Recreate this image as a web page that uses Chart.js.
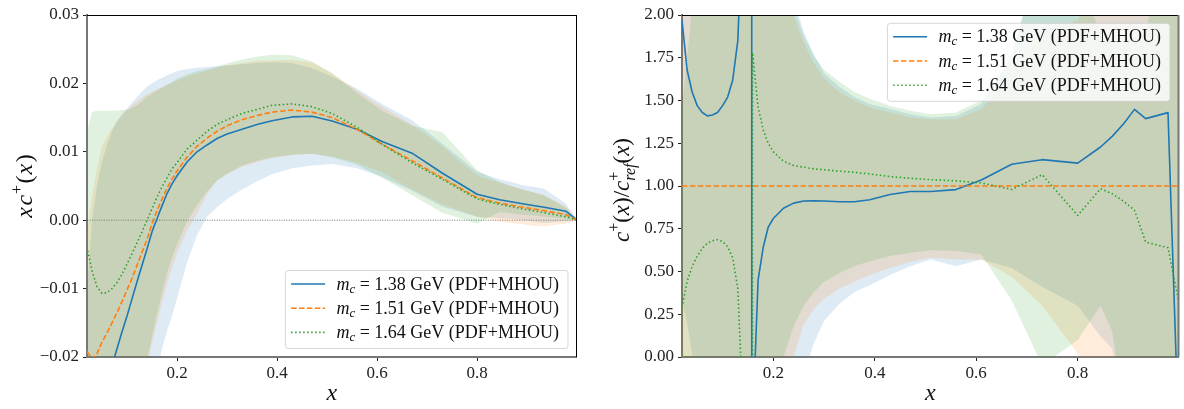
<!DOCTYPE html>
<html>
<head>
<meta charset="utf-8">
<script src="https://cdn.jsdelivr.net/npm/chart.js@4.4.1/dist/chart.umd.min.js"></script>
<style>
  html, body { margin: 0; padding: 0; background: #fff; }
  #wrap { position: relative; width: 1184px; height: 409px; }
  canvas { position: absolute; top: 0; }
  #left { left: 0; }
  #right { left: 592px; }
</style>
</head>
<body>
<div id="wrap">
  <canvas id="left" width="592" height="409"></canvas>
  <canvas id="right" width="592" height="409"></canvas>
</div>
<script>
// x grid shared by every curve
const X = [
  0.02, 0.03, 0.04, 0.05, 0.06, 0.07, 0.08, 0.09, 0.10, 0.11, 0.12,
  0.13, 0.14, 0.15, 0.156, 0.159, 0.163, 0.17, 0.18, 0.19, 0.20,
  0.22, 0.24, 0.26, 0.28, 0.30, 0.33, 0.36, 0.39, 0.43, 0.47,
  0.51, 0.56, 0.61, 0.67, 0.73, 0.80, 0.845, 0.868, 0.891, 0.912, 0.934, 0.978, 1.0
];
const MASSES = ['1.38', '1.51', '1.64'];

const X_MIN = 0.02, X_MAX = 0.9987;
const X_TICKS = [0.2, 0.4, 0.6, 0.8];
const Y_TICKS_LEFT = [-0.02, -0.01, 0.0, 0.01, 0.02, 0.03];
const Y_TICKS_RIGHT = [0, 0.25, 0.5, 0.75, 1.0, 1.25, 1.5, 1.75, 2.0];

// left panel: x c+(x), central values
const XC_138 = [
  -0.0370, -0.0340, -0.0300, -0.0265, -0.0238, -0.0212, -0.0188, -0.0163, -0.0140, -0.0115, -0.0090,
  -0.0066, -0.0042, -0.0017, -0.0005, 0.0000, 0.0008, 0.0021, 0.0039, 0.0053, 0.0065,
  0.0085, 0.0100, 0.0110, 0.01195, 0.0126, 0.0133, 0.0140, 0.01455, 0.0151, 0.0152,
  0.0145, 0.0133, 0.0115, 0.0098, 0.0069, 0.0038, 0.0030, 0.0027, 0.0024, 0.00215, 0.0019, 0.0013, 0.0000
];
const XC_151 = [
  -0.0192, -0.0203, -0.0195, -0.0178, -0.0165, -0.0150, -0.0135, -0.0119, -0.0102, -0.0085, -0.0066,
  -0.0047, -0.0028, -0.0005, 0.0006, 0.0012, 0.0019, 0.0031, 0.0047, 0.0060, 0.0072,
  0.0092, 0.0108, 0.0120, 0.0130, 0.0138, 0.0147, 0.0153, 0.0158, 0.0161, 0.0158,
  0.0150, 0.0133, 0.0111, 0.0087, 0.0062, 0.0033, 0.0025, 0.0022, 0.0019, 0.00165, 0.0014, 0.0008, 0.0000
];
const XC_164 = [
  -0.0039, -0.0074, -0.0097, -0.0107, -0.0106, -0.0100, -0.0091, -0.0079, -0.0064, -0.0049, -0.0033,
  -0.0017, 0.0000, 0.0017, 0.0027, 0.0032, 0.0038, 0.0049, 0.0062, 0.0075, 0.0084,
  0.0104, 0.0117, 0.0130, 0.0140, 0.0147, 0.0156, 0.0162, 0.0168, 0.0170, 0.0166,
  0.0156, 0.0136, 0.0111, 0.0084, 0.0060, 0.0031, 0.0023, 0.0020, 0.00165, 0.0014, 0.0011, 0.0005, 0.0000
];
// left panel: PDF+MHOU bands
const XC_HI_138 = [
  -0.0100, 0.0000, 0.0050, 0.0085, 0.0110, 0.0130, 0.0145, 0.0155, 0.0163, 0.0172, 0.0180,
  0.0188, 0.0195, 0.0200, 0.0203, 0.0204, 0.0206, 0.0208, 0.0212, 0.0215, 0.0218,
  0.0221, 0.0223, 0.0224, 0.0225, 0.0226, 0.0228, 0.0230, 0.0231, 0.0230, 0.0222,
  0.0210, 0.0192, 0.0170, 0.0146, 0.0112, 0.0071, 0.0060, 0.0056, 0.0051, 0.0049, 0.0046, 0.0024, 0.0000
];
const XC_LO_138 = [
  -0.0600, -0.0600, -0.0600, -0.0600, -0.0580, -0.0550, -0.0520, -0.0490, -0.0460, -0.0420, -0.0380,
  -0.0340, -0.0300, -0.0260, -0.0235, -0.0225, -0.0212, -0.0188, -0.0162, -0.0140, -0.0115,
  -0.0062, -0.0022, 0.0005, 0.0019, 0.0031, 0.0045, 0.0057, 0.0067, 0.0076, 0.0080,
  0.0082, 0.0076, 0.0063, 0.0043, 0.0020, 0.0005, 0.0003, 0.0002, 0.0000, -0.0002, -0.0004, -0.0001, 0.0000
];
const XC_HI_151 = [
  -0.0020, 0.0035, 0.0075, 0.0108, 0.0122, 0.0134, 0.0144, 0.0153, 0.0161, 0.0168, 0.0174,
  0.0179, 0.0184, 0.0188, 0.0190, 0.0191, 0.0192, 0.0194, 0.0198, 0.0201, 0.0204,
  0.0210, 0.0215, 0.0219, 0.0223, 0.0226, 0.0230, 0.0233, 0.0234, 0.0234, 0.0231,
  0.0215, 0.0190, 0.0166, 0.0140, 0.0108, 0.0065, 0.0055, 0.0050, 0.0045, 0.0041, 0.0037, 0.0020, 0.0000
];
const XC_LO_151 = [
  -0.0600, -0.0600, -0.0580, -0.0550, -0.0520, -0.0490, -0.0460, -0.0430, -0.0390, -0.0350, -0.0300,
  -0.0260, -0.0210, -0.0180, -0.0162, -0.0152, -0.0141, -0.0120, -0.0093, -0.0070, -0.0048,
  -0.0015, 0.0010, 0.0038, 0.0058, 0.0067, 0.0078, 0.0085, 0.0091, 0.0095, 0.0097,
  0.0093, 0.0084, 0.0070, 0.0045, 0.0023, 0.0005, -0.0002, -0.0004, -0.0006, -0.0008, -0.0009, -0.0005, 0.0000
];
const XC_HI_164 = [
  0.0130, 0.0158, 0.0160, 0.0160, 0.0160, 0.0160, 0.0160, 0.0161, 0.0162, 0.0164, 0.0168,
  0.0174, 0.0180, 0.0185, 0.0188, 0.0189, 0.0191, 0.0194, 0.0198, 0.0202, 0.0207,
  0.0213, 0.0218, 0.0221, 0.0225, 0.0229, 0.0235, 0.0239, 0.0242, 0.0241, 0.0232,
  0.0215, 0.0186, 0.0160, 0.0138, 0.0129, 0.0073, 0.0056, 0.0050, 0.0045, 0.0041, 0.0036, 0.0018, 0.0000
];
const XC_LO_164 = [
  -0.0550, -0.0550, -0.0540, -0.0520, -0.0500, -0.0470, -0.0440, -0.0410, -0.0370, -0.0330, -0.0290,
  -0.0250, -0.0205, -0.0170, -0.0150, -0.0140, -0.0128, -0.0106, -0.0078, -0.0055, -0.0035,
  -0.0002, 0.0022, 0.0042, 0.0058, 0.0068, 0.0080, 0.0087, 0.0092, 0.0096, 0.0097,
  0.0092, 0.0081, 0.0062, 0.0037, 0.0011, -0.0005, 0.0012, 0.0010, 0.0008, 0.0007, 0.0005, 0.0002, 0.0000
];

// right panel: ratio to the m_c = 1.51 GeV central value
const R_138 = [
  1.97, 1.68, 1.55, 1.47, 1.43, 1.41, 1.415, 1.43, 1.47, 1.52, 1.62,
  1.85, 2.6, 5.0, 60, -60, -0.1, 0.45, 0.64, 0.76, 0.81,
  0.87, 0.90, 0.912, 0.913, 0.912, 0.908, 0.908, 0.92, 0.95, 0.968,
  0.968, 0.979, 1.035, 1.127, 1.154, 1.134, 1.228, 1.29, 1.365, 1.448, 1.394, 1.429, -0.55
];
const R_151 = [
  1, 1, 1, 1, 1, 1, 1, 1, 1, 1, 1,
  1, 1, 1, 1, 1, 1, 1, 1, 1, 1,
  1, 1, 1, 1, 1, 1, 1, 1, 1, 1,
  1, 1, 1, 1, 1, 1, 1, 1, 1, 1, 1, 1, 1
];
const R_164 = [
  0.29, 0.44, 0.53, 0.59, 0.635, 0.665, 0.68, 0.686, 0.675, 0.645, 0.58,
  0.40, -0.3, -3.0, -60, 1.78, 1.66, 1.46, 1.33, 1.25, 1.20,
  1.145, 1.12, 1.11, 1.10, 1.095, 1.087, 1.08, 1.07, 1.055, 1.045,
  1.037, 1.03, 1.018, 0.98, 1.066, 0.828, 0.984, 0.955, 0.91, 0.858, 0.672, 0.639, 0.31
];
const R_HI_138 = [
  3, 3, 3, 3, 3, 3, 3, 3, 3, 3, 3,
  3, 3, 3, 3, 3, 3, 3, 3, 3, 3,
  2.3, 2.10, 1.90, 1.77, 1.66, 1.58, 1.52, 1.48, 1.45, 1.42,
  1.40, 1.41, 1.48, 1.75, 2.4, 2.5, 2.6, 2.7, 2.8, 2.9, 3, 3, 3
];
const R_LO_138 = [
  0.33, 0.20, 0.02, -0.5, -2, -2, -2, -2, -2, -2, -2,
  -2, -2, -2, -2, -2, -2, -2, -2, -2, -2,
  -1.0, -0.4, -0.1, 0.08, 0.21, 0.31, 0.38, 0.42, 0.48, 0.53,
  0.57, 0.53, 0.57, 0.52, 0.41, 0.30, 0.12, 0.05, -0.3, -0.3, -0.3, -0.3, -0.3
];
const R_HI_151 = [
  3, 3, 3, 3, 3, 3, 3, 3, 3, 3, 3,
  3, 3, 3, 3, 3, 3, 3, 3, 3, 3,
  2.2, 2.0, 1.84, 1.72, 1.63, 1.55, 1.50, 1.46, 1.43, 1.40,
  1.39, 1.39, 1.45, 1.65, 1.9, 1.97, 2.3, 2.4, 2.5, 2.6, 2.7, 3, 3
];
const R_LO_151 = [
  -2, -2, -2, -2, -2, -2, -2, -2, -2, -2, -2,
  -2, -2, -2, -2, -2, -2, -2, -2, -2, -1.0,
  -0.3, 0.0, 0.19, 0.28, 0.34, 0.40, 0.44, 0.48, 0.52, 0.555,
  0.58, 0.57, 0.57, 0.47, 0.30, 0.02, -0.3, -0.3, -0.3, -0.3, -0.3, -0.3, -0.3
];
const R_HI_164 = [
  1.45, 1.75, 2.05, 2.5, 3, 3, 3, 3, 3, 3, 3,
  3, 3, 3, 3, 3, 3, 3, 3, 3, 3,
  2.25, 2.05, 1.88, 1.76, 1.68, 1.61, 1.55, 1.51, 1.47, 1.44,
  1.42, 1.43, 1.50, 1.78, 2.4, 2.2, 1.9, 1.85, 1.85, 1.87, 1.9, 2.5, 3
];
const R_LO_164 = [
  -2, -2, -2, -2, -2, -2, -2, -2, -2, -2, -2,
  -2, -2, -2, -2, -2, -2, -2, -2, -2, -0.6,
  0.0, 0.18, 0.30, 0.38, 0.44, 0.49, 0.53, 0.56, 0.59, 0.61,
  0.625, 0.62, 0.60, 0.33, -0.05, 0.10, 0.30, 0.15, -0.3, -0.3, -0.3, -0.3, -0.3
];

const COLORS = ['#1f77b4', '#ff7f0e', '#2ca02c'];
const BANDS = ['rgba(31,119,180,0.15)', 'rgba(255,127,14,0.15)', 'rgba(44,160,44,0.15)'];
const DASHES = [[], [5.5, 2.4], [1.5, 2.5]];
const SERIF = '"Liberation Serif", "DejaVu Serif", serif';
const IT = s => `italic ${s}px ${SERIF}`;
const RM = s => `${s}px ${SERIF}`;

function pts(arr) {
  return X.map((x, i) => ({ x: x, y: arr[i] }));
}

function buildDatasets(centrals, highs, lows) {
  const ds = [];
  for (let k = 0; k < 3; k++) {
    ds.push({ data: pts(highs[k]), borderWidth: 0, borderColor: 'transparent', pointRadius: 0,
              fill: '+1', backgroundColor: BANDS[k], order: 12 - k });
    ds.push({ data: pts(lows[k]), borderWidth: 0, borderColor: 'transparent', pointRadius: 0,
              fill: false, order: 12 - k });
  }
  for (let k = 0; k < 3; k++) {
    ds.push({ data: pts(centrals[k]), borderColor: COLORS[k], borderWidth: 1.6, borderDash: DASHES[k],
              borderJoinStyle: 'round', pointRadius: 0, fill: false, order: 2 - k });
  }
  return ds;
}

// text made of pieces (italic, superscript, subscript)
function segWidth(ctx, s) {
  const parts = s.stack ? s.stack : [s];
  return Math.max(...parts.map(p => { ctx.font = p.font; return ctx.measureText(p.t).width + (p.kern || 0); }));
}
function drawRich(ctx, segs, x, y, align) {
  const w = segs.map(s => segWidth(ctx, s));
  const total = w.reduce((a, b) => a + b, 0);
  let cx = align === 'center' ? x - total / 2 : x;
  ctx.textAlign = 'left';
  ctx.textBaseline = 'alphabetic';
  segs.forEach((s, i) => {
    (s.stack ? s.stack : [s]).forEach(p => {
      ctx.font = p.font;
      ctx.fillText(p.t, cx, y + (p.dy || 0));
    });
    cx += w[i];
  });
  return total;
}

function legendSegs(k) {
  return [
    { t: 'm', font: IT(18) },
    { t: 'c', font: IT(13), dy: 3 },
    { t: ' = ' + MASSES[k] + ' GeV (PDF+MHOU)', font: RM(18) }
  ];
}

const decor = {
  id: 'decor',
  afterDraw(chart, args, opts) {
    const ctx = chart.ctx, a = chart.chartArea;
    ctx.save();

    // legend box
    const rows = [0, 1, 2].map(legendSegs);
    const tw = Math.max(...rows.map(r => r.reduce((s, g) => s + segWidth(ctx, g), 0)));
    const bw = 5.7 + 34 + 11.3 + tw + 9, bh = 78;
    const bx = a.right - 8.5 - bw;
    const by = opts.legendTop ? a.top + 8.3 : a.bottom - 8.5 - bh;
    ctx.beginPath();
    ctx.roundRect(bx, by, bw, bh, 3);
    ctx.fillStyle = 'rgba(255,255,255,0.8)';
    ctx.fill();
    ctx.strokeStyle = 'rgba(204,204,204,0.8)';
    ctx.lineWidth = 1;
    ctx.stroke();
    rows.forEach((r, k) => {
      const ry = by + 13.5 + 24.2 * k;
      ctx.beginPath();
      ctx.setLineDash(DASHES[k]);
      ctx.strokeStyle = COLORS[k];
      ctx.lineWidth = 1.6;
      ctx.moveTo(bx + 5.7, ry);
      ctx.lineTo(bx + 39.7, ry);
      ctx.stroke();
      ctx.setLineDash([]);
      ctx.fillStyle = '#111';
      drawRich(ctx, r, bx + 51, ry + 5.5, 'left');
    });

    // top and right spines
    ctx.strokeStyle = '#000';
    ctx.lineWidth = 1;
    ctx.beginPath();
    ctx.moveTo(a.left, a.top + 0.5);
    ctx.lineTo(a.right, a.top + 0.5);
    ctx.stroke();
    ctx.strokeStyle = opts.rightColor;
    ctx.lineWidth = opts.rightWidth;
    ctx.beginPath();
    ctx.moveTo(a.right, a.top);
    ctx.lineTo(a.right, a.bottom);
    ctx.stroke();

    // axis titles
    ctx.fillStyle = '#111';
    drawRich(ctx, [{ t: 'x', font: IT(24) }], (a.left + a.right) / 2, 400, 'center');
    ctx.translate(opts.yTitleX, opts.yTitleY);
    ctx.rotate(-Math.PI / 2);
    drawRich(ctx, opts.yTitle, 0, 0, 'center');
    ctx.restore();
  }
};

function fmtTick(v, d) {
  return v.toFixed(d).replace('-', '\u2212');
}

function makeChart(id, cfg) {
  const tickFont = { family: SERIF, size: 17 };
  return new Chart(document.getElementById(id), {
    type: 'line',
    data: { datasets: cfg.datasets },
    plugins: [decor],
    options: {
      responsive: false,
      animation: false,
      events: [],
      layout: { padding: { top: 15, right: cfg.padRight, bottom: 0, left: 0 } },
      plugins: {
        legend: { display: false },
        tooltip: { enabled: false },
        decor: cfg.decor
      },
      scales: {
        x: {
          type: 'linear', min: X_MIN, max: X_MAX,
          afterBuildTicks: s => { s.ticks = X_TICKS.map(v => ({ value: v })); },
          afterFit: s => { s.height = 52; },
          ticks: { callback: v => fmtTick(v, 1), color: '#222', font: tickFont, padding: 2,
                   maxRotation: 0, autoSkip: false },
          grid: { drawOnChartArea: false, drawTicks: true, tickLength: 4, color: '#222' },
          border: { display: true, color: '#777', width: 2 }
        },
        y: {
          type: 'linear', min: cfg.yMin, max: cfg.yMax,
          afterBuildTicks: s => { s.ticks = cfg.yTicks.map(v => ({ value: v })); },
          afterFit: s => { s.width = cfg.yWidth; },
          ticks: { callback: v => fmtTick(v, 2), color: '#222', font: tickFont, padding: 4, autoSkip: false },
          grid: { drawOnChartArea: false, drawTicks: true, tickLength: 4, color: '#222' },
          border: { display: true, color: '#777', width: 2 }
        }
      }
    }
  });
}

const leftSets = buildDatasets(
  [XC_138, XC_151, XC_164],
  [XC_HI_138, XC_HI_151, XC_HI_164],
  [XC_LO_138, XC_LO_151, XC_LO_164]
);
leftSets.push({
  data: [{ x: X_MIN, y: 0 }, { x: X_MAX, y: 0 }],
  borderColor: 'rgba(0,0,0,0.45)', borderWidth: 1, borderDash: [1.2, 1.2],
  pointRadius: 0, fill: false, order: 20
});

makeChart('left', {
  datasets: leftSets,
  yMin: -0.02, yMax: 0.03, yTicks: Y_TICKS_LEFT, yWidth: 87, padRight: 15.5,
  decor: {
    legendTop: false, rightColor: '#000', rightWidth: 1, yTitleX: 32, yTitleY: 186,
    yTitle: [
      { t: 'x', font: IT(24), kern: 1.5 }, { t: 'c', font: IT(24), kern: 1 }, { t: '+', font: RM(16), dy: -10, kern: 1.5 },
      { t: '(', font: RM(24), kern: 1 }, { t: 'x', font: IT(24), kern: 1.5 }, { t: ')', font: RM(24) }
    ]
  }
});

makeChart('right', {
  datasets: buildDatasets(
    [R_138, R_151, R_164],
    [R_HI_138, R_HI_151, R_HI_164],
    [R_LO_138, R_LO_151, R_LO_164]
  ),
  yMin: 0, yMax: 2, yTicks: Y_TICKS_RIGHT, yWidth: 90, padRight: 5.5,
  decor: {
    legendTop: true, rightColor: '#777', rightWidth: 2, yTitleX: 37, yTitleY: 190,
    yTitle: [
      { t: 'c', font: IT(23) }, { t: '+', font: RM(16), dy: -10 },
      { t: '(', font: RM(23) }, { t: 'x', font: IT(23) }, { t: ')', font: RM(23) },
      { t: '/', font: RM(23) },
      { t: 'c', font: IT(23) },
      { stack: [{ t: '+', font: RM(16), dy: -10 }, { t: 'ref', font: IT(16), dy: 6 }] },
      { t: '(', font: RM(23) }, { t: 'x', font: IT(23) }, { t: ')', font: RM(23) }
    ]
  }
});
</script>
</body>
</html>
